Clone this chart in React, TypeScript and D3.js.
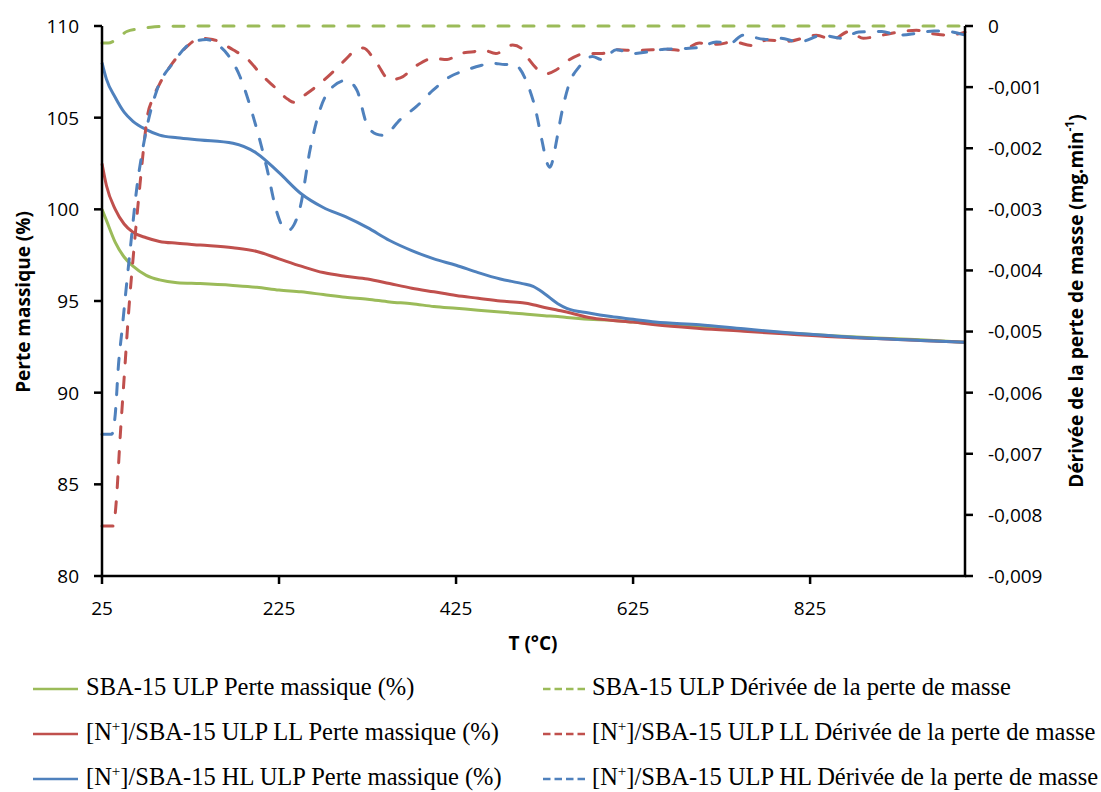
import React from 'react';
import * as d3 from 'd3';

// ---------- data ----------
const tgTemps = [25, 30, 40, 50, 60, 75, 90, 110, 136, 173, 200, 225, 250, 275, 300, 325, 350, 375, 400, 425, 450, 475, 500, 512, 525, 540, 550, 575, 600, 625, 650, 700, 750, 800, 850, 900, 950, 1000];
const tgSBA = [100, 99.4, 98.2, 97.4, 96.9, 96.4, 96.15, 96.0, 95.95, 95.85, 95.75, 95.6, 95.5, 95.35, 95.2, 95.1, 94.95, 94.85, 94.7, 94.6, 94.5, 94.4, 94.3, 94.25, 94.2, 94.15, 94.1, 94.0, 93.95, 93.85, 93.75, 93.6, 93.42, 93.25, 93.1, 92.98, 92.88, 92.75];
const tgLL = [102.5, 101.3, 100.0, 99.2, 98.75, 98.45, 98.25, 98.15, 98.05, 97.9, 97.7, 97.3, 96.9, 96.55, 96.35, 96.2, 95.95, 95.7, 95.5, 95.3, 95.15, 95.0, 94.9, 94.8, 94.65, 94.5, 94.4, 94.1, 93.95, 93.85, 93.7, 93.5, 93.35, 93.2, 93.05, 92.95, 92.85, 92.75];
const tgHL = [108.0, 107.1, 106.1, 105.3, 104.8, 104.35, 104.05, 103.9, 103.78, 103.6, 103.05, 102.0, 100.85, 100.1, 99.6, 99.0, 98.3, 97.75, 97.3, 96.95, 96.55, 96.2, 95.95, 95.8, 95.4, 94.85, 94.6, 94.35, 94.15, 94.0, 93.85, 93.7, 93.48, 93.27, 93.1, 92.95, 92.85, 92.75];

const dtgSBATemps = [25, 32, 40, 47, 53, 65, 80, 100, 150, 300, 500, 700, 900, 1000];
const dtgSBA = [-0.00028, -0.00028, -0.00023, -0.00015, -0.00009, -0.00005, -0.00002, -0.000005, 0, 0, 0, 0, 0, 0];

const dtgLLTemps = [25, 38, 41, 45.5, 51, 55, 62, 68, 72, 76, 82, 90, 105, 120, 136, 150, 173, 190, 204, 220, 235, 242, 255, 268, 286, 300, 313, 320, 335, 350, 362, 380, 399, 415, 429, 445, 455, 470, 489, 500, 508, 518, 527, 538, 550, 572, 590, 606, 630, 663, 680, 700, 720, 738, 760, 776, 800, 832, 850, 869, 885, 906, 925, 945, 960, 982, 1000];
const dtgLL = [-0.00818, -0.00818, -0.0078, -0.00673, -0.00555, -0.0047, -0.0035, -0.00258, -0.002, -0.0015, -0.0012, -0.00095, -0.0006, -0.00035, -0.0002, -0.00022, -0.00039, -0.00055, -0.00078, -0.001, -0.0012, -0.00125, -0.00112, -0.00098, -0.00075, -0.00055, -0.00038, -0.00036, -0.0006, -0.00088, -0.00085, -0.00065, -0.00053, -0.00055, -0.00045, -0.00042, -0.00039, -0.00045, -0.00031, -0.00038, -0.00056, -0.00072, -0.00078, -0.00072, -0.00058, -0.00045, -0.00045, -0.00039, -0.0004, -0.00038, -0.0004, -0.00028, -0.0003, -0.00026, -0.00032, -0.00023, -0.00025, -0.00015, -0.00022, -0.00009, -0.0002, -0.00015, -0.0001, -0.00007, -0.00012, -0.00015, -0.0001];

const dtgHLTemps = [25, 36, 40, 43.7, 47.6, 51.3, 58, 64.5, 70, 75.8, 87, 105, 128, 143, 155, 166, 181, 196, 211, 222, 230, 236, 242, 249, 260, 271, 286, 301, 313, 324, 335, 343, 362, 380, 399, 418, 437, 452, 467, 480, 489, 497, 504, 515, 522, 528, 531, 535, 538, 545, 553, 564, 579, 590, 606, 625, 643, 660, 681, 700, 719, 735, 749, 775, 790, 813, 839, 860, 880, 906, 925, 945, 965, 982, 1000];
const dtgHL = [-0.00668, -0.00668, -0.00635, -0.00553, -0.00498, -0.00444, -0.0035, -0.00263, -0.0021, -0.00165, -0.00105, -0.00061, -0.00026, -0.00022, -0.0003, -0.00045, -0.00083, -0.00149, -0.00231, -0.00302, -0.0033, -0.00334, -0.00325, -0.00296, -0.00203, -0.00138, -0.00099, -0.00089, -0.00105, -0.0016, -0.00177, -0.00179, -0.00153, -0.00132, -0.00105, -0.00083, -0.00072, -0.00065, -0.00061, -0.00063, -0.00062, -0.0007, -0.00089, -0.00138, -0.00187, -0.00225, -0.00231, -0.00215, -0.00192, -0.00138, -0.00094, -0.00067, -0.0005, -0.00055, -0.00039, -0.00045, -0.00042, -0.00038, -0.00037, -0.00035, -0.00026, -0.00028, -0.00015, -0.00022, -0.0002, -0.00026, -0.00015, -0.0002, -0.0001, -0.00009, -0.00015, -0.00012, -0.00008, -0.00009, -0.00015];

const xTicks = [25, 225, 425, 625, 825];
const leftTicks = [80, 85, 90, 95, 100, 105, 110];
const rightTicks = [0, -0.001, -0.002, -0.003, -0.004, -0.005, -0.006, -0.007, -0.008, -0.009];

const GREEN = '#9BBB59';
const RED = '#C0504D';
const BLUE = '#4F81BD';

const solidSeries = [
  { name: 'SBA-15 ULP Perte massique (%)', color: GREEN, t: tgTemps, v: tgSBA, np: false },
  { name: '/SBA-15 ULP LL Perte massique (%)', color: RED, t: tgTemps, v: tgLL, np: true },
  { name: '/SBA-15 HL ULP Perte massique (%)', color: BLUE, t: tgTemps, v: tgHL, np: true },
];
const dashedSeries = [
  { name: 'SBA-15 ULP Dérivée de la perte de masse', color: GREEN, t: dtgSBATemps, v: dtgSBA, np: false },
  { name: '/SBA-15 ULP LL Dérivée de la perte de masse', color: RED, t: dtgLLTemps, v: dtgLL, np: true },
  { name: '/SBA-15 ULP HL Dérivée de la perte de masse', color: BLUE, t: dtgHLTemps, v: dtgHL, np: true },
];

const W = 1101;
const H = 792;
const L = 102, R = 965, T = 26, B = 576;

const axisFont = '"Open Sans", sans-serif';
const legendFont = '"Liberation Serif", "Times New Roman", serif';
const LEGEND_SIZE = 24.5;

function LegendLabel({ x, y, np, name }: { x: number; y: number; np: boolean; name: string }) {
  if (!np) {
    return <text x={x} y={y} fontFamily={legendFont} fontSize={LEGEND_SIZE} fill="#000">{name}</text>;
  }
  return (
    <text x={x} y={y} fontFamily={legendFont} fontSize={LEGEND_SIZE} fill="#000">
      [N<tspan fontSize={15} dy={-9}>+</tspan><tspan dy={9}>]{name}</tspan>
    </text>
  );
}

export default function App() {
  const x = d3.scaleLinear().domain([25, 1000]).range([L, R]);
  const yL = d3.scaleLinear().domain([80, 110]).range([B, T]);
  const yR = d3.scaleLinear().domain([-0.009, 0]).range([B, T]);

  const mkLine = (ys: d3.ScaleLinear<number, number>) =>
    d3.line<[number, number]>().x(d => x(d[0])).y(d => ys(d[1])).curve(d3.curveMonotoneX);

  const lineL = mkLine(yL);
  const lineR = mkLine(yR);

  const fmtRight = (v: number) => (v === 0 ? '0' : d3.format('.3f')(v).replace('.', ',').replace('−', '-'));

  const legendRows = [689, 734, 779];

  return (
    <svg width={W} height={H} style={{ position: 'absolute', left: 0, top: 0, background: '#fff' }}>
      <rect x={0} y={0} width={W} height={H} fill="#fff" />
      {/* solid TG lines */}
      {solidSeries.map((s, i) => (
        <path key={'s' + i} d={lineL(s.t.map((t, j) => [t, s.v[j]] as [number, number])) || ''}
          fill="none" stroke={s.color} strokeWidth={3} strokeLinejoin="round" />
      ))}
      {/* dashed DTG lines */}
      {dashedSeries.map((s, i) => (
        <path key={'d' + i} d={lineR(s.t.map((t, j) => [t, s.v[j]] as [number, number])) || ''}
          fill="none" stroke={s.color} strokeWidth={3} strokeDasharray="11 14" strokeLinecap="round" strokeLinejoin="round" />
      ))}

      {/* axes */}
      <line x1={L} y1={T} x2={L} y2={B} stroke="#000" strokeWidth={2.5} />
      <line x1={L - 1.25} y1={B} x2={R + 1.25} y2={B} stroke="#000" strokeWidth={2.5} />
      <line x1={R} y1={T} x2={R} y2={B} stroke="#000" strokeWidth={2.5} />

      {leftTicks.map(v => (
        <g key={'lt' + v}>
          <line x1={L - 8} x2={L} y1={yL(v)} y2={yL(v)} stroke="#000" strokeWidth={2.5} />
          <text x={79} y={yL(v)} dy="0.36em" textAnchor="end" fontFamily={axisFont} fontSize={19} fill="#000">{v}</text>
        </g>
      ))}
      {rightTicks.map(v => (
        <g key={'rt' + v}>
          <line x1={R} x2={R + 8} y1={yR(v)} y2={yR(v)} stroke="#000" strokeWidth={2.5} />
          <text x={988} y={yR(v)} dy="0.36em" textAnchor="start" fontFamily={axisFont} fontSize={19} fill="#000">{fmtRight(v)}</text>
        </g>
      ))}
      {xTicks.map(v => (
        <g key={'xt' + v}>
          <line x1={x(v)} x2={x(v)} y1={B} y2={B + 8} stroke="#000" strokeWidth={2.5} />
          <text x={x(v)} y={615} textAnchor="middle" fontFamily={axisFont} fontSize={19} fill="#000">{v}</text>
        </g>
      ))}

      {/* axis titles */}
      <text x={533} y={650} textAnchor="middle" fontFamily={axisFont} fontWeight="bold" fontSize={19} fill="#000">T (°C)</text>
      <text transform="translate(23,302) rotate(-90)" textAnchor="middle" dominantBaseline="central" fontFamily={axisFont} fontWeight="bold" fontSize={19} fill="#000">Perte massique (%)</text>
      <text transform="translate(1076,301) rotate(-90)" textAnchor="middle" dominantBaseline="central" fontFamily={axisFont} fontWeight="bold" fontSize={19} fill="#000">
        Dérivée de la perte de masse (mg.min<tspan fontSize={12} dy={-7}>-1</tspan><tspan dy={7}>)</tspan>
      </text>

      {/* legend */}
      {solidSeries.map((s, i) => (
        <g key={'lg1' + i}>
          <line x1={33} x2={78} y1={legendRows[i]} y2={legendRows[i]} stroke={s.color} strokeWidth={2.5} />
          <LegendLabel x={86} y={legendRows[i] + 6} np={s.np} name={s.name} />
        </g>
      ))}
      {dashedSeries.map((s, i) => (
        <g key={'lg2' + i}>
          <line x1={543} x2={587} y1={legendRows[i]} y2={legendRows[i]} stroke={s.color} strokeWidth={2.5} strokeDasharray="7.5 4" />
          <LegendLabel x={592} y={legendRows[i] + 6} np={s.np} name={s.name} />
        </g>
      ))}
    </svg>
  );
}
